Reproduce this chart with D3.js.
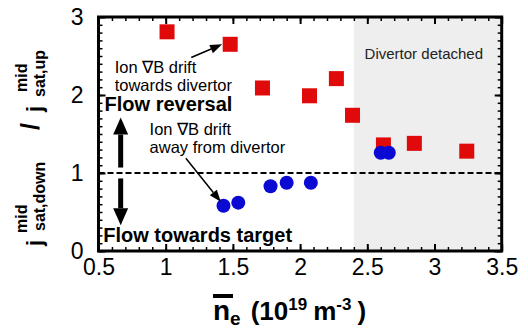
<!DOCTYPE html>
<html>
<head>
<meta charset="utf-8">
<script src="https://cdn.jsdelivr.net/npm/d3@7"></script>
<style>
  body { margin: 0; background: #fff; }
  text { font-family: "Liberation Sans", Arial, sans-serif; }
</style>
</head>
<body>
<div id="chart"></div>
<script>
// Ion grad-B drift towards divertor (red squares)
var redX = [1.01, 1.48, 1.72, 2.07, 2.27, 2.39, 2.62, 2.85, 3.24];
var redY = [2.81, 2.65, 2.09, 1.99, 2.21, 1.74, 1.36, 1.38, 1.28];
// Ion grad-B drift away from divertor (blue circles)
var blueX = [1.43, 1.54, 1.78, 1.90, 2.08, 2.60, 2.66];
var blueY = [0.58, 0.62, 0.83, 0.875, 0.875, 1.26, 1.26];

var xTicks = [0.5, 1, 1.5, 2, 2.5, 3, 3.5];
var yTicks = [0, 1, 2, 3];
var detachedFrom = 2.4;
var refLine = 1;

var W = 528, H = 331;
var margin = { top: 17, right: 26.3, bottom: 80, left: 98.5 };
var width = W - margin.left - margin.right;
var height = H - margin.top - margin.bottom;

var svg = d3.select("#chart").append("svg")
    .attr("width", W)
    .attr("height", H);

var g = svg.append("g")
    .attr("transform", "translate(" + margin.left + "," + margin.top + ")");

var x = d3.scaleLinear().domain([0.5, 3.5]).range([0, width]);
var y = d3.scaleLinear().domain([0, 3]).range([height, 0]);

// shaded detached region
g.append("rect")
    .attr("x", x(detachedFrom))
    .attr("y", 0)
    .attr("width", x(3.5) - x(detachedFrom))
    .attr("height", height)
    .attr("fill", "#eeeeee");

g.append("text")
    .attr("x", x(2.48)).attr("y", y(2.46))
    .attr("font-size", 15).attr("fill", "#222")
    .text("Divertor detached");

// minor tick values
var xMinor = d3.range(5, 36).map(function (d) { return d / 10; });
var yMinor = d3.range(0, 31).map(function (d) { return d / 10; });

function drawAxis(axisFn, scale, vals, minorVals, transform, labels) {
    var gm = g.append("g").attr("transform", transform)
        .call(axisFn(scale).tickValues(minorVals).tickSize(-4).tickFormat(""));
    gm.select(".domain").remove();
    gm.selectAll("line").attr("stroke", "#000").attr("stroke-width", 1.5);
    var ga = g.append("g").attr("transform", transform)
        .call(axisFn(scale).tickValues(vals).tickSize(-7)
            .tickPadding(labels ? 15 : 0)
            .tickFormat(labels ? d3.format("") : ""));
    ga.select(".domain").remove();
    ga.selectAll("line").attr("stroke", "#000").attr("stroke-width", 2);
    ga.selectAll("text").attr("font-size", 23).attr("fill", "#000")
        .style("font-family", "'Liberation Sans', Arial, sans-serif");
    return ga;
}

var gxb = drawAxis(d3.axisBottom, x, xTicks, xMinor, "translate(0," + height + ")", true);
gxb.selectAll("text").attr("dy", "0.4em");
drawAxis(d3.axisTop, x, xTicks, xMinor, "translate(0,0)", false);
drawAxis(d3.axisLeft, y, yTicks, yMinor, "translate(0,0)", true);
drawAxis(d3.axisRight, y, yTicks, yMinor, "translate(" + width + ",0)", false);

// frame
g.append("rect")
    .attr("x", 0).attr("y", 0)
    .attr("width", width).attr("height", height)
    .attr("fill", "none").attr("stroke", "#000").attr("stroke-width", 3);

// reference line at ratio = 1
g.append("line")
    .attr("x1", 0).attr("x2", width)
    .attr("y1", y(refLine)).attr("y2", y(refLine))
    .attr("stroke", "#000").attr("stroke-width", 2)
    .attr("stroke-dasharray", "6,3");

// data
var redData = redX.map(function (d, i) { return { x: d, y: redY[i] }; });
var blueData = blueX.map(function (d, i) { return { x: d, y: blueY[i] }; });
var sq = 15;

g.selectAll(".red").data(redData).enter().append("rect")
    .attr("class", "red")
    .attr("x", function (d) { return x(d.x) - sq / 2; })
    .attr("y", function (d) { return y(d.y) - sq / 2; })
    .attr("width", sq).attr("height", sq)
    .attr("fill", "#e00a0a");

g.selectAll(".blue").data(blueData).enter().append("circle")
    .attr("class", "blue")
    .attr("cx", function (d) { return x(d.x); })
    .attr("cy", function (d) { return y(d.y); })
    .attr("r", 7)
    .attr("fill", "#0a0ad2");

// thin annotation arrows
function thinArrow(x1, y1, x2, y2) {
    var ang = Math.atan2(y2 - y1, x2 - x1);
    var hl = 12, hw = 4.5;
    var bx = x2 - hl * Math.cos(ang), by = y2 - hl * Math.sin(ang);
    g.append("line")
        .attr("x1", x1).attr("y1", y1).attr("x2", bx).attr("y2", by)
        .attr("stroke", "#000").attr("stroke-width", 1.5);
    g.append("path")
        .attr("d", "M" + x2 + "," + y2 +
            "L" + (bx + hw * Math.sin(ang)) + "," + (by - hw * Math.cos(ang)) +
            "L" + (bx - hw * Math.sin(ang)) + "," + (by + hw * Math.cos(ang)) + "Z")
        .attr("fill", "#000");
}

// thick flow arrows
function thickArrow(xc, y1, y2) {
    var dir = y2 < y1 ? -1 : 1;
    var hl = 17, hw = 7.5;
    var by = y2 - dir * hl;
    g.append("line")
        .attr("x1", xc).attr("y1", y1).attr("x2", xc).attr("y2", by)
        .attr("stroke", "#000").attr("stroke-width", 5);
    g.append("path")
        .attr("d", "M" + xc + "," + y2 + "L" + (xc - hw) + "," + by + "L" + (xc + hw) + "," + by + "Z")
        .attr("fill", "#000");
}

thickArrow(x(0.665), y(1.07), y(1.71));
thickArrow(x(0.665), y(0.93), y(0.33));

thinArrow(x(1.19), y(2.48), x(1.42), y(2.65));
thinArrow(x(1.15), y(1.19), x(1.41), y(0.63));

function label(px, py, str, size, bold) {
    return g.append("text")
        .attr("x", px).attr("y", py)
        .attr("font-size", size)
        .attr("font-weight", bold ? "bold" : "normal")
        .attr("fill", "#000")
        .text(str);
}

label(x(0.62), y(2.28), "Ion  \u2207B drift", 16.5, false);
label(x(0.62), y(2.05), "towards divertor", 16.5, false);
label(x(0.545), y(1.79), "Flow reversal", 20, true);
label(x(0.88), y(1.49), "Ion \u2207B drift", 16.5, false);
label(x(0.88), y(1.26), "away from divertor", 16.5, false);
label(x(0.535), y(0.12), "Flow towards target", 20, true);

// x axis title: n_e (10^19 m^-3) with overbar on n
var xt = svg.append("text")
    .attr("x", 213).attr("y", 320)
    .attr("font-weight", "bold").attr("font-size", 26).attr("fill", "#000");
xt.append("tspan").attr("font-size", 28).text("n");
xt.append("tspan").attr("font-size", 19).attr("dy", 5).text("e");
xt.append("tspan").attr("dy", -5).attr("dx", 10).text("(10");
xt.append("tspan").attr("font-size", 17).attr("dy", -10).text("19");
xt.append("tspan").attr("dy", 10).attr("dx", 6).text("m");
xt.append("tspan").attr("font-size", 17).attr("dy", -10).text("-3");
xt.append("tspan").attr("dy", 10).attr("dx", 6).text(")");
svg.append("rect")
    .attr("x", 213).attr("y", 294).attr("width", 20).attr("height", 4)
    .attr("fill", "#000");

// y axis title: j^mid_sat,down / j^mid_sat,up (rotated)
var yt = svg.append("g")
    .attr("transform", "translate(40,250) rotate(-90)")
    .attr("font-weight", "bold").attr("fill", "#000");
yt.append("text").attr("x", 4).attr("y", 2).attr("font-size", 22).text("j");
yt.append("text").attr("x", 19).attr("y", 5).attr("font-size", 16).text("sat,down");
yt.append("text").attr("x", 17).attr("y", -13).attr("font-size", 16).text("mid");
yt.append("text").attr("x", 120).attr("y", -1).attr("font-size", 25).text("/");
yt.append("text").attr("x", 138).attr("y", 2).attr("font-size", 22).text("j");
yt.append("text").attr("x", 153).attr("y", 5).attr("font-size", 16).text("sat,up");
yt.append("text").attr("x", 158).attr("y", -13).attr("font-size", 16).text("mid");
</script>
</body>
</html>
